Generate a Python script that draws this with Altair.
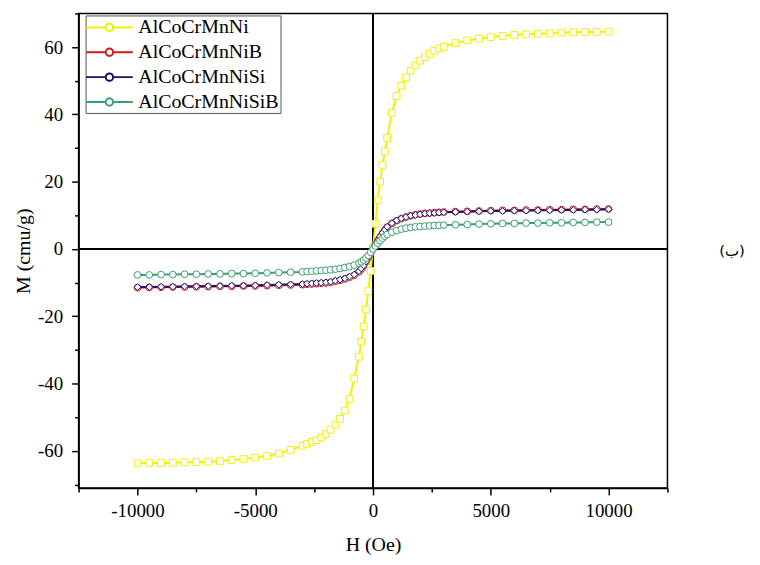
import altair as alt
import pandas as pd

# ---- data ----
series_names = ["AlCoCrMnNi", "AlCoCrMnNiB", "AlCoCrMnNiSi", "AlCoCrMnNiSiB"]
series_colors = ["#F2F200", "#D21A1A", "#12126E", "#3AA070"]
series_shapes = ["square", "circle", "diamond", "circle"]

H = [-10000, -9500, -9000, -8500, -8000, -7500, -7000, -6500, -6000, -5500,
     -5000, -4500, -4000, -3500, -3000,
     -2800, -2600, -2400, -2200, -2000, -1800, -1600, -1400, -1200, -1000, -800,
     -600, -500, -400, -300, -200, -100,
     0,
     100, 200, 300, 400, 500, 600,
     800, 1000, 1200, 1400, 1600, 1800, 2000, 2200, 2400, 2600, 2800,
     3000, 3500, 4000, 4500, 5000, 5500, 6000, 6500, 7000, 7500,
     8000, 8500, 9000, 9500, 10000]

M_Ni = [-63.7, -63.6, -63.6, -63.5, -63.4, -63.3, -63.2, -63.0, -62.7, -62.4,
        -62.0, -61.5, -60.8, -59.7, -58.5,
        -57.9, -57.3, -56.8, -56.0, -55.0, -53.7, -52.2, -50.5, -48.0, -44.5, -38.5,
        -32.0, -27.5, -23.0, -18.0, -12.5, -6.5,
        0.5,
        7.5, 14.5, 20.0, 25.0, 29.0, 33.0,
        40.5, 45.5, 48.5, 51.0, 53.0, 54.5, 56.0, 57.0, 58.0, 58.9, 59.6,
        60.1, 61.2, 62.0, 62.5, 63.0, 63.3, 63.6, 63.8, 64.0, 64.1,
        64.3, 64.4, 64.5, 64.5, 64.6]

M_NiB = [-11.5, -11.4, -11.4, -11.3, -11.3, -11.2, -11.2, -11.1, -11.1, -11.0,
         -11.0, -10.9, -10.8, -10.7, -10.6,
         -10.5, -10.4, -10.3, -10.2, -10.1, -9.9, -9.6, -9.3, -8.9, -8.4, -7.8,
         -6.8, -6.0, -5.0, -3.8, -2.6, -1.3,
         0.0,
         1.2, 2.5, 3.6, 4.6, 5.6, 6.5,
         7.6, 8.4, 9.0, 9.5, 9.9, 10.2, 10.4, 10.6, 10.7, 10.8, 10.9,
         11.0, 11.1, 11.2, 11.3, 11.4, 11.5, 11.5, 11.6, 11.6, 11.7,
         11.7, 11.8, 11.8, 11.9, 11.9]

M_NiSi = [-11.3, -11.3, -11.2, -11.2, -11.1, -11.1, -11.0, -11.0, -10.9, -10.9,
          -10.8, -10.7, -10.6, -10.5, -10.4,
          -10.3, -10.2, -10.1, -10.0, -9.9, -9.7, -9.4, -9.1, -8.7, -8.2, -7.6,
          -6.6, -5.8, -4.9, -3.7, -2.5, -1.2,
          0.0,
          1.3, 2.6, 3.7, 4.8, 5.7, 6.6,
          7.7, 8.5, 9.1, 9.5, 9.9, 10.1, 10.3, 10.5, 10.6, 10.7, 10.8,
          10.9, 11.0, 11.1, 11.2, 11.3, 11.3, 11.4, 11.4, 11.5, 11.5,
          11.6, 11.6, 11.7, 11.7, 11.8]

M_NiSiB = [-7.7, -7.7, -7.6, -7.6, -7.5, -7.5, -7.4, -7.4, -7.3, -7.3,
           -7.2, -7.1, -7.0, -6.9, -6.8,
           -6.7, -6.6, -6.5, -6.4, -6.3, -6.2, -6.0, -5.8, -5.5, -5.2, -4.8,
           -4.2, -3.8, -3.3, -2.7, -1.9, -1.0,
           0.0,
           0.9, 1.7, 2.5, 3.2, 3.8, 4.3,
           5.0, 5.5, 5.9, 6.2, 6.4, 6.6, 6.7, 6.8, 6.9, 7.0, 7.0,
           7.1, 7.2, 7.3, 7.4, 7.5, 7.6, 7.6, 7.7, 7.7, 7.8,
           7.8, 7.9, 7.9, 8.0, 8.0]

x_tick_values = [-12500, -10000, -7500, -5000, -2500, 0, 2500, 5000, 7500, 10000, 12500]
y_tick_values = [-70, -60, -50, -40, -30, -20, -10, 0, 10, 20, 30, 40, 50, 60, 70]
side_label = "(ب)"

rows = []
for name, vals in zip(series_names, [M_Ni, M_NiB, M_NiSi, M_NiSiB]):
    for h, m in zip(H, vals):
        rows.append({"H": h, "M": m, "series": name})
df = pd.DataFrame(rows)

FONT = "Liberation Serif"

x_scale = alt.Scale(domain=[-12500, 12500], nice=False, zero=False)
y_scale = alt.Scale(domain=[-71, 70], nice=False, zero=False)
color_scale = alt.Scale(domain=series_names, range=series_colors)

x_axis = alt.Axis(
    values=x_tick_values,
    labelExpr="datum.value % 5000 === 0 ? '' + datum.value : ''",
    tickSize={"condition": {"test": "datum.value % 5000 === 0", "value": 7}, "value": 4},
    grid=False, domainColor="black", domainWidth=1.5, tickColor="black", tickWidth=1.5,
    labelFont=FONT, labelFontSize=19, labelColor="black", labelPadding=7,
    labelFlush=False, labelOverlap=False,
    title="H (Oe)", titleFont=FONT, titleFontSize=20, titleFontWeight="normal",
    titleColor="black", titlePadding=14,
)
y_axis = alt.Axis(
    values=y_tick_values,
    labelExpr="datum.value % 20 === 0 ? '' + datum.value : ''",
    tickSize={"condition": {"test": "datum.value % 20 === 0", "value": 7}, "value": 4},
    grid=False, domainColor="black", domainWidth=1.5, tickColor="black", tickWidth=1.5,
    labelFont=FONT, labelFontSize=19, labelColor="black", labelPadding=9,
    labelFlush=False, labelOverlap=False,
    title="M (cmu/g)", titleFont=FONT, titleFontSize=20, titleFontWeight="normal",
    titleColor="black", titlePadding=4,
)

base = alt.Chart(df)

vline = base.mark_rule(color="black", strokeWidth=1.5).encode(
    x=alt.X(datum=0, type="quantitative", scale=x_scale, axis=x_axis)
)
hline = base.mark_rule(color="black", strokeWidth=1.5).encode(
    y=alt.Y(datum=0, type="quantitative", scale=y_scale, axis=y_axis)
)

legend_symbol = ("M-2.35,0L-0.37,0M0.37,0L2.35,0"
                 "M0.37,0A0.37,0.37,0,1,1,-0.37,0A0.37,0.37,0,1,1,0.37,0")

lines = base.mark_line(strokeWidth=2).encode(
    x=alt.X("H:Q", scale=x_scale, axis=x_axis),
    y=alt.Y("M:Q", scale=y_scale, axis=y_axis),
    color=alt.Color(
        "series:N", scale=color_scale, sort=series_names,
        legend=alt.Legend(
            title=None, orient="none", legendX=7, legendY=2,
            symbolType=legend_symbol, symbolSize=400, symbolStrokeWidth=2,
            symbolFillColor="white", symbolOffset=12,
            labelFont=FONT, labelFontSize=20, labelColor="black", labelOffset=18,
            rowPadding=4, padding=1,
            strokeColor="#555555", fillColor="white",
        ),
    ),
    detail="series:N",
)

point_layers = []
for name, shp in zip(series_names, series_shapes):
    point_layers.append(
        base.transform_filter(alt.datum.series == name)
        .mark_point(filled=True, fill="white", shape=shp, size=46, strokeWidth=1, opacity=1)
        .encode(
            x=alt.X("H:Q", scale=x_scale, axis=x_axis),
            y=alt.Y("M:Q", scale=y_scale, axis=y_axis),
            stroke=alt.Stroke("series:N", scale=color_scale, legend=None),
        )
    )

side = alt.Chart(pd.DataFrame({"t": [side_label]})).mark_text(
    font="DejaVu Sans", fontSize=15, color="black", align="center", baseline="middle"
).encode(text="t:N", x=alt.value(657), y=alt.value(239))

chart = alt.layer(vline, hline, lines, *point_layers, side).properties(
    width=592, height=477,
    autosize=alt.AutoSizeParams(type="none"),
    padding={"left": 71, "top": 4, "right": 85, "bottom": 76},
).configure_view(stroke="black", strokeWidth=1.5)

chart.save("out.html", embed_options={"renderer": "svg", "actions": False})
